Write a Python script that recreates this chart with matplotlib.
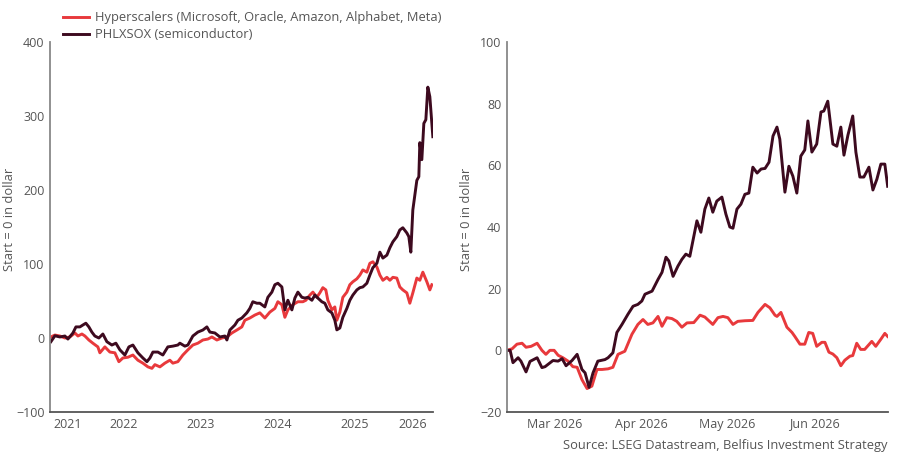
import pandas as pd
import matplotlib.pyplot as plt
import matplotlib.dates as mdates

# ---- left chart: since mid 2021 (x in decimal years) ----
semi_long_t = [2021.552, 2021.604, 2021.669, 2021.734, 2021.773, 2021.838, 2021.877, 2021.929, 2021.968,
               2022.006, 2022.045, 2022.084, 2022.123, 2022.175, 2022.227, 2022.279, 2022.344, 2022.396,
               2022.448, 2022.513, 2022.565, 2022.617, 2022.682, 2022.747, 2022.799, 2022.838, 2022.877,
               2022.942, 2023.006, 2023.071, 2023.136, 2023.201, 2023.227, 2023.292, 2023.331, 2023.396,
               2023.461, 2023.526, 2023.578, 2023.617, 2023.682, 2023.747, 2023.812, 2023.838, 2023.877,
               2023.942, 2023.981, 2024.032, 2024.097, 2024.136, 2024.175, 2024.227, 2024.266, 2024.331,
               2024.370, 2024.422, 2024.461, 2024.500, 2024.552, 2024.591, 2024.630, 2024.682, 2024.721,
               2024.760, 2024.812, 2024.851, 2024.890, 2024.942, 2024.981, 2025.019, 2025.071, 2025.110,
               2025.149, 2025.201, 2025.240, 2025.266, 2025.305, 2025.344, 2025.396, 2025.435, 2025.474,
               2025.526, 2025.565, 2025.604, 2025.656, 2025.695, 2025.734, 2025.786, 2025.825, 2025.864,
               2025.916, 2025.955, 2025.994, 2026.045, 2026.084, 2026.123, 2026.175, 2026.201, 2026.227,
               2026.253, 2026.305, 2026.331, 2026.344, 2026.370, 2026.396, 2026.422, 2026.448, 2026.474,
               2026.513]
semi_long = [-5, 3, 1.4, 2.7, -1.4, 6.8, 15, 15, 17.6,
             20, 15, 8, 2.7, 0, 5.4, -5, -9.5, -7,
             -16, -23, -12, -9.5, -20, -27, -32, -27, -19,
             -19, -23, -12, -11, -9.5, -7, -11, -9.5, 2.7,
             8, 10.8, 15, 8, 6.8, 1.4, 2.7, -2.7, 10.8,
             17.6, 24, 27, 34, 40, 49, 47, 47, 42,
             55, 62, 72, 74, 69, 38, 51, 38, 54,
             62, 55, 54, 55, 51, 58, 54, 49, 47,
             38, 34, 24, 11, 13.5, 28, 40, 51, 58,
             65, 68, 69, 74, 85, 95, 101, 116, 108,
             112, 122, 130, 137, 146, 149, 142, 137, 116,
             173, 213, 218, 264, 241, 290, 295, 339, 326,
             272]

hyper_long_t = [2021.552, 2021.604, 2021.669, 2021.734, 2021.799, 2021.864, 2021.903, 2021.955, 2021.994,
                2022.045, 2022.097, 2022.162, 2022.188, 2022.253, 2022.318, 2022.383, 2022.435, 2022.487,
                2022.552, 2022.617, 2022.682, 2022.747, 2022.812, 2022.864, 2022.903, 2022.968, 2023.032,
                2023.097, 2023.136, 2023.201, 2023.266, 2023.331, 2023.396, 2023.461, 2023.526, 2023.591,
                2023.643, 2023.708, 2023.773, 2023.838, 2023.903, 2023.968, 2024.032, 2024.071, 2024.136,
                2024.201, 2024.266, 2024.331, 2024.396, 2024.461, 2024.500, 2024.552, 2024.591, 2024.630,
                2024.695, 2024.760, 2024.825, 2024.864, 2024.916, 2024.955, 2025.006, 2025.045, 2025.084,
                2025.123, 2025.149, 2025.201, 2025.240, 2025.266, 2025.305, 2025.344, 2025.396, 2025.435,
                2025.474, 2025.526, 2025.565, 2025.604, 2025.656, 2025.695, 2025.734, 2025.786, 2025.825,
                2025.864, 2025.916, 2025.955, 2025.994, 2026.045, 2026.084, 2026.123, 2026.175, 2026.214,
                2026.253, 2026.305, 2026.344, 2026.383, 2026.435, 2026.474, 2026.500]
hyper_long = [1.4, 4, 2.7, 0, 1.4, 6.8, 2.7, 5.4, 2.7,
              -2.7, -7, -12, -20, -12, -19, -20, -32, -27,
              -26, -23, -30, -34, -39, -41, -36, -39, -34,
              -30, -34, -32, -23, -16, -9.5, -7, -2.7, -1.4,
              1.4, -2.7, 0, 1.4, 6.8, 10.8, 15, 24, 27,
              31, 34, 27, 35, 40, 49, 45, 28, 38,
              45, 49, 49, 51, 58, 62, 55, 61, 68,
              65, 51, 38, 42, 24, 35, 55, 62, 72,
              76, 80, 85, 92, 89, 101, 103, 96, 85,
              78, 82, 78, 82, 81, 69, 65, 61, 47,
              61, 81, 78, 89, 76, 65, 72]

# ---- right chart: year to date 2026 (x in days since 1 March 2026) ----
semi_ytd_d = [-1.2, -0.1, 0.9, 2.7, 3.7, 5.5, 6.9, 9.4, 11.1, 12.2, 15.0, 16.8, 18.2, 19.6, 21.7, 23.5,
              25.2, 26.3, 27.7, 29.1, 30.8, 33.3, 34.4, 36.1, 37.5, 39.3, 41.4, 43.2, 44.9, 46.3, 47.4,
              49.9, 52.0, 53.4, 54.8, 55.8, 57.3, 59.0, 60.4, 61.8, 63.2, 65.7, 67.1, 68.5, 69.9, 71.3,
              72.7, 74.5, 75.9, 77.3, 78.4, 79.8, 81.2, 82.6, 84.0, 85.4, 86.9, 88.3, 89.7, 91.1, 92.5,
              93.9, 94.9, 96.7, 98.1, 99.5, 100.9, 102.3, 103.7, 104.8, 106.2, 107.9, 109.4, 110.4, 111.8,
              113.6, 115.0, 116.4, 117.5, 118.9, 120.6, 121.7, 123.1, 124.5, 126.3, 127.7, 129.1, 130.5,
              131.9, 132.9]
semi_ytd = [0, 0, -4, -2.4, -3.5, -7, -3.6, -2.4, -5.6, -5.3, -3.3, -3.5, -2.7, -5, -3.3, -1.3,
            -6.2, -7.3, -12, -7.3, -3.5, -3, -2.4, -0.8, 5.8, 8.4, 11.7, 14.3, 14.9, 16, 18.2,
            19.2, 23, 25.3, 30.2, 29, 24, 27.3, 29.5, 31.2, 30.5, 42, 38.3, 45.8, 49.4, 44.8,
            48.4, 49.7, 44.2, 40, 39.6, 45.8, 47.4, 50.6, 51, 59.4, 57.5, 58.8, 59, 61, 69.5,
            72.4, 68.5, 51.3, 59.7, 56.5, 51, 63, 65, 74.4, 64.3, 66.9, 77.3, 77.6, 80.8,
            66.9, 66.2, 72.4, 63.3, 69.8, 76, 64.3, 56.2, 56.2, 59.4, 52, 55.5, 60.4,
            60.4, 53.2]

hyper_ytd_d = [-1.2, 0.6, 2.3, 4.1, 5.5, 7.3, 9.4, 11.1, 12.5, 13.9, 15.4, 16.8, 18.5, 20.3, 22.0, 23.5,
               25.2, 27.0, 28.7, 30.5, 32.3, 34.4, 36.1, 37.9, 40.3, 42.8, 44.9, 46.7, 48.4, 50.2, 52.0,
               53.4, 55.1, 56.9, 58.6, 60.4, 62.2, 64.6, 66.8, 68.5, 71.3, 73.1, 74.9, 76.6, 78.4, 80.1,
               82.6, 85.4, 87.2, 89.7, 91.4, 93.2, 93.9, 95.3, 97.4, 99.2, 100.2, 102.0, 103.7, 105.1,
               106.5, 107.9, 109.7, 110.8, 112.2, 113.6, 115.0, 116.4, 117.8, 119.6, 120.6, 122.0, 123.4,
               124.8, 127.3, 128.7, 130.5, 131.9, 132.9]
hyper_ytd = [0, 0.5, 2, 2.3, 1, 1.3, 2.3, 0, -1.3, 0, 0, -1.6, -2.4, -3.5, -5.3, -5.5,
             -9.5, -12.4, -11.6, -6.2, -6.2, -6, -5.5, -1.3, -0.3, 5.2, 8.4, 10, 8.4, 8.9, 11,
             7.8, 10.6, 10.3, 9.4, 7.5, 8.9, 9, 11.4, 10.8, 8.4, 10.6, 11, 10.6, 8.4, 9.4,
             9.6, 9.7, 12.3, 14.9, 13.8, 11.4, 11, 12.3, 7.5, 5.8, 4.5, 2, 2, 5.8,
             5.5, 1.3, 2.6, 2.6, -0.6, -1.2, -2.4, -5, -3.2, -1.9, -1.7, 2.3, 0.3,
             0.3, 2.9, 1.3, 3.6, 5.5, 4.5]

labels = ['Hyperscalers (Microsoft, Oracle, Amazon, Alphabet, Meta)', 'PHLXSOX (semiconductor)']
red = '#e8393c'
dark = '#3d0a1f'
grey = '#555555'

plt.rcParams['font.family'] = ['Open Sans', 'DejaVu Sans']
plt.rcParams['font.size'] = 9

fig = plt.figure(figsize=(9.07, 4.54), dpi=100)
ax1 = fig.add_axes([0.0551, 0.0925, 0.4223, 0.815])
ax2 = fig.add_axes([0.559, 0.0925, 0.420, 0.815])

# left
l1, = ax1.plot(hyper_long_t, hyper_long, color=red, lw=2.1)
l2, = ax1.plot(semi_long_t, semi_long, color=dark, lw=2.1)
x0, x1 = 2021.54, 2026.515
ax1.set_xlim(x0, x1)
ax1.set_ylim(-100, 400)
ax1.set_yticks(range(-100, 401, 100))
years = range(2021, 2027)
centers = [(max(y, x0) + min(y + 1, x1)) / 2 for y in years]
ax1.set_xticks(centers)
ax1.set_xticklabels([str(y) for y in years])

# right
base = pd.Timestamp('2026-03-01')
hd = mdates.date2num(base + pd.to_timedelta(hyper_ytd_d, unit='D'))
sd = mdates.date2num(base + pd.to_timedelta(semi_ytd_d, unit='D'))
ax2.plot(hd, hyper_ytd, color=red, lw=2.1)
ax2.plot(sd, semi_ytd, color=dark, lw=2.1)
ax2.set_xlim(mdates.date2num(base - pd.Timedelta(days=1.2)), mdates.date2num(base + pd.Timedelta(days=133)))
ax2.set_ylim(-20, 100)
ax2.set_yticks(range(-20, 101, 20))
months = pd.date_range('2026-03-01', '2026-06-01', freq='MS')
mid = [mdates.date2num(m + (m + pd.offsets.MonthBegin(1) - m) / 2) for m in months]
ax2.set_xticks(mid)
ax2.set_xticklabels([m.strftime('%b %Y') for m in months])

for ax in (ax1, ax2):
    ax.spines[['top', 'right']].set_visible(False)
    ax.spines['left'].set_color('#888888')
    ax.spines['bottom'].set_color('#555555')
    ax.spines['left'].set_linewidth(1.3)
    ax.spines['bottom'].set_linewidth(1.3)
    ax.tick_params(length=0, colors=grey, labelsize=9, pad=4)
    ax.set_ylabel('Start = 0 in dollar', color=grey, fontsize=9.3)
    ax.yaxis.set_label_coords(-0.089, 0.52)

fig.legend([l1, l2], labels, loc='upper left', bbox_to_anchor=(0.070, 0.975), frameon=False,
           borderpad=0, borderaxespad=0, handlelength=2.0, handletextpad=0.45, labelspacing=0.3,
           fontsize=9.3, labelcolor=grey)

fig.text(0.978, 0.018, 'Source: LSEG Datastream, Belfius Investment Strategy', ha='right', va='center',
         color=grey, fontsize=9.3)

plt.savefig('out.png', dpi=100)
